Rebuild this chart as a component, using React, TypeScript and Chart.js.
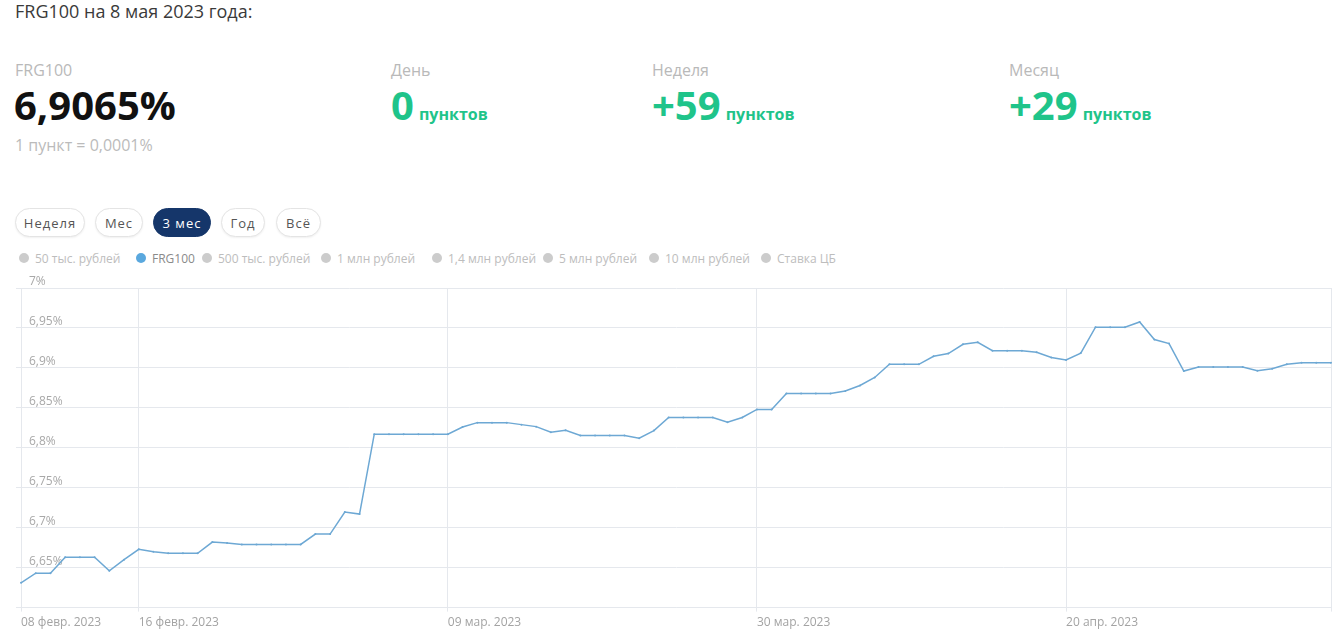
import React, { useEffect, useRef } from "react";
import { Chart, registerables } from "chart.js";

Chart.register(...registerables);

// ---- data ----
const startDate = "2023-02-08";
const frg100Values: number[] = [
  6.631, 6.643, 6.643, 6.663, 6.663, 6.663, 6.646, 6.66, 6.673, 6.67,
  6.668, 6.668, 6.668, 6.682, 6.681, 6.679, 6.679, 6.679, 6.679, 6.679,
  6.692, 6.692, 6.7195, 6.717, 6.817, 6.817, 6.817, 6.817, 6.817, 6.817,
  6.826, 6.8315, 6.8315, 6.8315, 6.829, 6.8265, 6.8195, 6.822, 6.8155, 6.8155,
  6.8155, 6.8155, 6.812, 6.8215, 6.838, 6.838, 6.838, 6.838, 6.832, 6.838,
  6.848, 6.848, 6.868, 6.868, 6.868, 6.868, 6.871, 6.878, 6.888, 6.9045,
  6.9045, 6.9045, 6.9145, 6.918, 6.9295, 6.932, 6.9215, 6.9215, 6.9215, 6.9195,
  6.913, 6.91, 6.9185, 6.951, 6.951, 6.951, 6.9575, 6.9355, 6.9305, 6.896,
  6.901, 6.901, 6.901, 6.901, 6.8965, 6.899, 6.9045, 6.9065, 6.9065, 6.9065,
];
const xTickIndices: number[] = [0, 8, 29, 50, 71, 89];
const xTickLabels: string[] = [
  "08 февр. 2023",
  "16 февр. 2023",
  "09 мар. 2023",
  "30 мар. 2023",
  "20 апр. 2023",
  "",
];
const yMin = 6.6;
const yMax = 7;
const yStep = 0.05;

const legendItems: string[] = [
  "50 тыс. рублей",
  "FRG100",
  "500 тыс. рублей",
  "1 млн рублей",
  "1,4 млн рублей",
  "5 млн рублей",
  "10 млн рублей",
  "Ставка ЦБ",
];
const periodButtons: string[] = ["Неделя", "Мес", "3 мес", "Год", "Всё"];

const stats = [
  { label: "День", value: "0" },
  { label: "Неделя", value: "+59" },
  { label: "Месяц", value: "+29" },
];

// ---- styles ----
const FONT = "'Open Sans', 'Noto Sans', sans-serif";
const GREEN = "#1fc48a";
const GRID = "#e5e8ed";
const LINE = "#6da8d4";

const dateLabels: string[] = (() => {
  const d0 = new Date(startDate + "T00:00:00Z");
  return frg100Values.map((_, i) => {
    const d = new Date(d0.getTime() + i * 86400000);
    return d.toISOString().slice(0, 10);
  });
})();

function ChartView() {
  const ref = useRef<HTMLCanvasElement | null>(null);
  useEffect(() => {
    if (!ref.current) return;
    const chart = new Chart(ref.current, {
      type: "line",
      data: {
        labels: dateLabels,
        datasets: [
          {
            label: "FRG100",
            data: frg100Values,
            borderColor: LINE,
            backgroundColor: LINE,
            borderWidth: 1.5,
            pointRadius: 1,
            pointBorderWidth: 0,
            tension: 0,
            fill: false,
          },
        ],
      },
      options: {
        animation: false,
        responsive: true,
        maintainAspectRatio: false,
        layout: { padding: { left: 0, right: 11, top: 18, bottom: 1 } },
        plugins: { legend: { display: false }, tooltip: { enabled: false } },
        scales: {
          x: {
            type: "category",
            offset: false,
            grid: { color: GRID, tickLength: 4 },
            border: { color: GRID },
            afterBuildTicks: (scale: any) => {
              scale.ticks = xTickIndices.map((v) => ({ value: v }));
            },
            ticks: {
              autoSkip: false,
              maxRotation: 0,
              minRotation: 0,
              align: "start",
              padding: 4,
              color: "#a3a3a3",
              font: { family: FONT, size: 12 },
              callback: (v: any) => {
                const k = xTickIndices.indexOf(Number(v));
                return k >= 0 ? xTickLabels[k] : "";
              },
            },
          },
          y: {
            min: yMin,
            max: yMax,
            grid: { color: GRID, tickLength: 5 },
            border: { color: GRID },
            ticks: {
              stepSize: yStep,
              mirror: true,
              padding: 8,
              labelOffset: -6,
              color: "#a8a8a8",
              font: { family: FONT, size: 12 },
              callback: (v: any) => {
                const n = Math.round(Number(v) * 100) / 100;
                if (Math.abs(n - yMin) < 1e-6) return "";
                return String(n).replace(".", ",") + "%";
              },
            },
          },
        },
      },
    });
    return () => chart.destroy();
  }, []);
  return (
    <div style={{ position: "absolute", left: 0, top: 270, width: 1342, height: 365 }}>
      <canvas ref={ref} />
    </div>
  );
}

export default function App() {
  const btnLefts = [15, 95, 153, 221, 276];
  const btnWidths = [70, 48, 58, 44, 45];
  const legendLefts = [19, 136, 202, 321, 432, 543, 649, 761];
  const statLefts = [391, 652, 1009];
  return (
    <div
      style={{
        position: "absolute",
        left: 0,
        top: 0,
        width: 1342,
        height: 635,
        overflow: "hidden",
        background: "#fff",
        fontFamily: FONT,
      }}
    >
      <div style={{ position: "absolute", left: 15, top: 0, fontSize: 18, lineHeight: "22px", color: "#3a3a3a" }}>
        FRG100 на 8 мая 2023 года:
      </div>

      <div style={{ position: "absolute", left: 15, top: 60, fontSize: 16, lineHeight: "20px", color: "#b9b9b9" }}>
        FRG100
      </div>
      <div
        style={{
          position: "absolute",
          left: 14,
          top: 84.5,
          fontSize: 40,
          lineHeight: "40px",
          fontWeight: 700,
          color: "#111",
        }}
      >
        6,9065%
      </div>
      <div style={{ position: "absolute", left: 15, top: 135, fontSize: 16, lineHeight: "20px", color: "#bbbbbb" }}>
        1 пункт = 0,0001%
      </div>

      {stats.map((s, i) => (
        <React.Fragment key={s.label}>
          <div
            style={{
              position: "absolute",
              left: statLefts[i],
              top: 60,
              fontSize: 16,
              lineHeight: "20px",
              color: "#b9b9b9",
            }}
          >
            {s.label}
          </div>
          <div
            style={{
              position: "absolute",
              left: statLefts[i],
              top: 84.5,
              display: "flex",
              alignItems: "baseline",
              gap: 5,
              color: GREEN,
              fontWeight: 700,
            }}
          >
            <span style={{ fontSize: 40, lineHeight: "40px" }}>{s.value}</span>
            <span style={{ fontSize: 16, lineHeight: "20px" }}>пунктов</span>
          </div>
        </React.Fragment>
      ))}

      {periodButtons.map((b, i) => {
        const active = b === "3 мес";
        return (
          <div
            key={b}
            style={{
              position: "absolute",
              left: btnLefts[i],
              top: 208,
              width: btnWidths[i],
              height: 29,
              boxSizing: "border-box",
              borderRadius: 15,
              border: active ? "1px solid #15366a" : "1px solid #e4e4e4",
              background: active ? "#15366a" : "#fff",
              boxShadow: active ? "none" : "0 1px 2px rgba(0,0,0,0.06)",
              color: active ? "#fff" : "#555",
              fontSize: 13,
              letterSpacing: 1,
              display: "flex",
              alignItems: "center",
              justifyContent: "center",
            }}
          >
            {b}
          </div>
        );
      })}

      {legendItems.map((l, i) => {
        const active = l === "FRG100";
        return (
          <div
            key={l}
            style={{
              position: "absolute",
              left: legendLefts[i],
              top: 249,
              height: 18,
              display: "flex",
              alignItems: "center",
              gap: 6,
              fontSize: 12,
              color: active ? "#8a8a8a" : "#bdbdbd",
              whiteSpace: "nowrap",
            }}
          >
            <span
              style={{
                width: 10,
                height: 10,
                borderRadius: 5,
                background: active ? "#5aa8de" : "#cccccc",
                display: "inline-block",
              }}
            />
            <span>{l}</span>
          </div>
        );
      })}

      <ChartView />
    </div>
  );
}
